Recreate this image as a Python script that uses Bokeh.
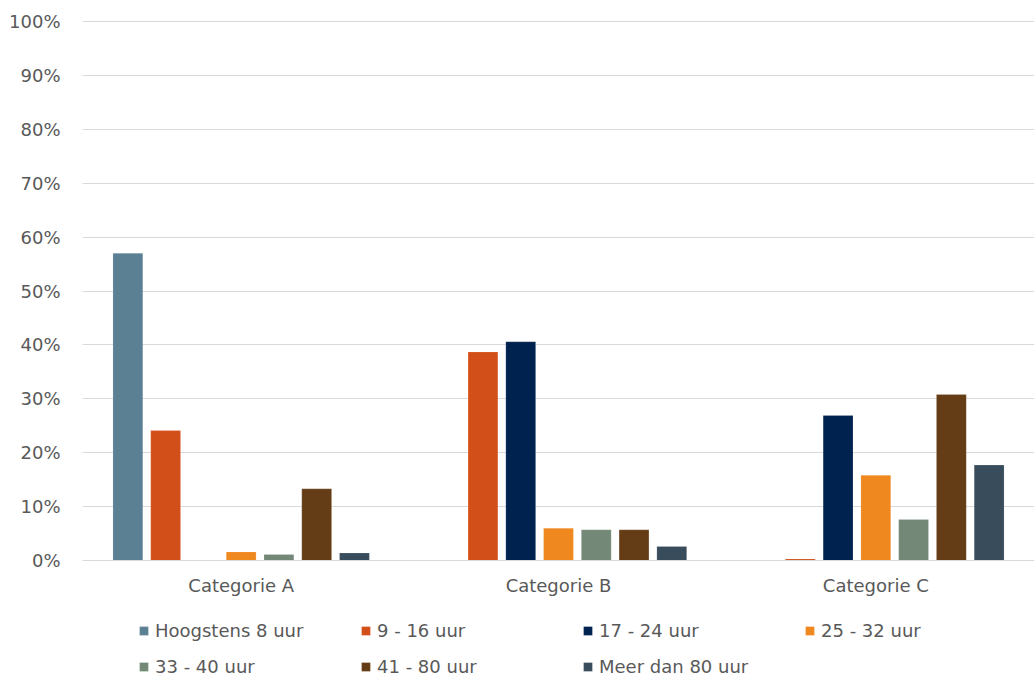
from bokeh.plotting import figure
from bokeh.layouts import column
from bokeh.models import (ColumnDataSource, FactorRange, Range1d, FixedTicker,
                          PrintfTickFormatter, Legend, LegendItem)
from bokeh.transform import dodge
from bokeh.embed import file_html
from bokeh.resources import INLINE

categories = ["Categorie A", "Categorie B", "Categorie C"]
series = ["Hoogstens 8 uur", "9 - 16 uur", "17 - 24 uur", "25 - 32 uur",
          "33 - 40 uur", "41 - 80 uur", "Meer dan 80 uur"]
colors = ["#5B7F93", "#D34F19", "#00224F", "#EF881F", "#738876", "#643C16", "#394C5C"]

hoogstens_8 = [57.0, 0.0, 0.0]
uur_9_16 = [24.1, 38.7, 0.3]
uur_17_24 = [0.0, 40.6, 26.9]
uur_25_32 = [1.6, 6.0, 15.8]
uur_33_40 = [1.1, 5.7, 7.6]
uur_41_80 = [13.3, 5.7, 30.8]
meer_80 = [1.4, 2.6, 17.7]

y_ticks = [0, 10, 20, 30, 40, 50, 60, 70, 80, 90, 100]

values = [hoogstens_8, uur_9_16, uur_17_24, uur_25_32, uur_33_40, uur_41_80, meer_80]
keys = ["s%d" % i for i in range(len(series))]
data = {"cat": categories}
for k, v in zip(keys, values):
    data[k] = v
source = ColumnDataSource(data)

FONT = "DejaVu Sans"
TXT = "#595959"
EDGE = dict(line_color="white", line_width=0.5, line_alpha=0.3)
step = 0.119
bw = 0.094

# ---- main chart ----
p = figure(x_range=FactorRange(*categories, range_padding=0), y_range=Range1d(0, 100.2),
           width=1034, height=599, output_backend="svg", toolbar_location=None,
           min_border_left=82, min_border_right=0, min_border_top=20, min_border_bottom=39)
p.outline_line_color = None
p.background_fill_color = "white"
p.border_fill_color = "white"

for i, (k, c) in enumerate(zip(keys, colors)):
    p.vbar(x=dodge("cat", (i - 3) * step, range=p.x_range), top=k, width=bw,
           source=source, fill_color=c, **EDGE)

p.xgrid.visible = False
p.ygrid.grid_line_color = "#D9D9D9"
p.ygrid.grid_line_width = 1

p.yaxis.ticker = FixedTicker(ticks=y_ticks)
p.yaxis.formatter = PrintfTickFormatter(format="%d%%")
p.yaxis.axis_line_color = None
p.yaxis.major_tick_line_color = None
p.yaxis.minor_tick_line_color = None
p.yaxis.major_label_standoff = 16
p.yaxis.major_label_text_font = FONT
p.yaxis.major_label_text_font_size = "18px"
p.yaxis.major_label_text_color = TXT

p.xaxis.axis_line_color = "#D9D9D9"
p.xaxis.axis_line_width = 1
p.xaxis.major_tick_line_color = None
p.xaxis.minor_tick_line_color = None
p.xaxis.major_label_standoff = 8
p.xaxis.major_label_text_font = FONT
p.xaxis.major_label_text_font_size = "18px"
p.xaxis.major_label_text_color = TXT

# ---- legend strip (hidden series renderers only feed the legend swatches) ----
lg = figure(width=1034, height=78, x_range=FactorRange(*categories, range_padding=0),
            y_range=Range1d(0, 1), output_backend="svg", toolbar_location=None,
            x_axis_location=None, y_axis_location=None, min_border=0)
lg.outline_line_color = None
lg.grid.visible = False
items = []
for i, (s, k, c) in enumerate(zip(series, keys, colors)):
    r = lg.vbar(x=dodge("cat", (i - 3) * step, range=lg.x_range), top=k, width=bw,
                source=source, fill_color=c, **EDGE)
    r.visible = False
    items.append(LegendItem(label=s, renderers=[r]))

legend = Legend(items=items, location=(56, 0), orientation="horizontal", ncols=4,
                padding=0, margin=0, spacing=15, border_line_color=None,
                background_fill_alpha=0, glyph_width=11, glyph_height=11,
                label_standoff=6, label_width=190, label_height=20,
                inactive_fill_alpha=0, click_policy="none",
                label_text_font=FONT, label_text_font_size="18px", label_text_color=TXT)
lg.add_layout(legend)

layout = column(p, lg, spacing=0)
open("out.html", "w").write(file_html(layout, INLINE))
